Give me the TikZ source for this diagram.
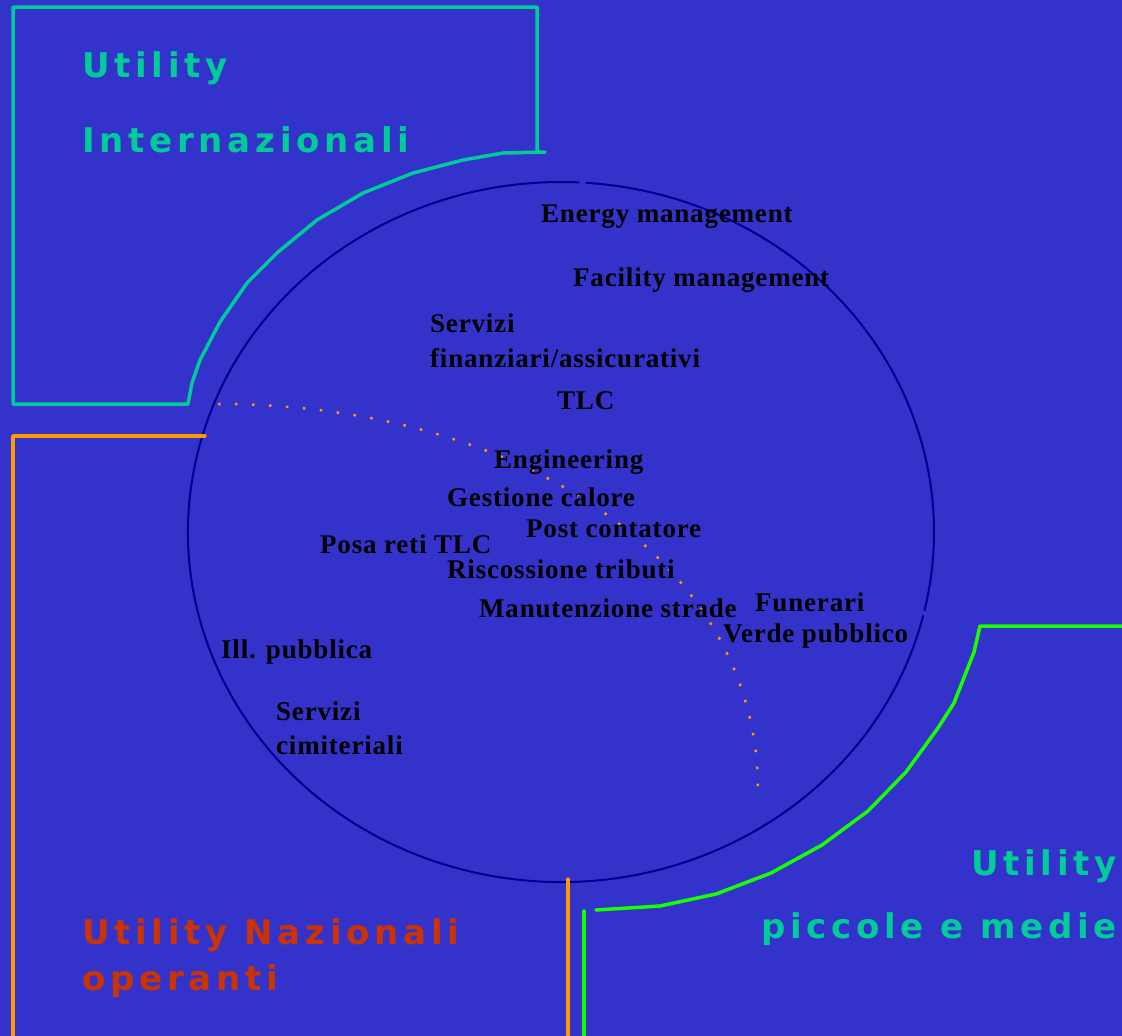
\documentclass[tikz,border=0pt]{standalone}
\usepackage{fontspec}
\newfontfamily\headfont[LetterSpace=14]{DejaVu Sans Bold}
\newfontfamily\labfont[LetterSpace=3]{Liberation Serif Bold}
\definecolor{bgblue}{RGB}{51,51,204}
\definecolor{navy}{RGB}{0,0,140}
\definecolor{tealc}{RGB}{0,204,153}
\definecolor{orangec}{RGB}{255,153,0}
\definecolor{greenc}{RGB}{26,255,0}
\definecolor{redc}{RGB}{204,51,0}
\begin{document}
\begin{tikzpicture}[x=1pt,y=-1pt,
  lab/.style={anchor=base west,inner sep=0pt,font=\labfont\fontsize{27}{32}\selectfont,text=black},
  head/.style={inner sep=0pt,font=\headfont\fontsize{34}{40}\selectfont},
  frame/.style={line width=3.5pt,line join=round,line cap=round}]
% background
\fill[bgblue] (0,0) rectangle (1122,1036);
\useasboundingbox (0,0) rectangle (1122,1036);

% central ellipse, drawn as two arcs
\coordinate (c) at (561,532);
\draw[navy,line width=2pt] (c) ++(13.8:373 and 350) arc[start angle=13.8,end angle=272.8,x radius=373,y radius=350];
\draw[navy,line width=2pt] (c) ++(273.8:373 and 350) arc[start angle=273.8,end angle=373.0,x radius=373,y radius=350];

% dotted boundary
\coordinate (d1) at (218,404);
\coordinate (d2) at (758,790);
\draw[orangec,line width=2.5pt,dash pattern=on 2.5pt off 14.5pt] (d1) .. controls (520,404) and (758,560) .. (d2);

% international utilities frame
\coordinate (t0) at (545,152);
\coordinate (t1) at (188,404);
\draw[tealc,frame] (t0) -- (503,153) -- (463,160) -- (413,173) -- (363,193) -- (317,220)
  -- (278,252) -- (247,283) -- (220,322) -- (200,360) -- (192,383) -- (t1)
  -- (13,404) -- (13,7) -- (537,7) -- (537,152);

% national utilities frame
\coordinate (o0) at (205,436);
\coordinate (o1) at (568,879);
\draw[orangec,frame] (o0) -- (13,436) -- (13,1045);
\draw[orangec,frame] (o1) -- (568,1045);

% small and medium utilities frame
\coordinate (g0) at (584,911);
\coordinate (g1) at (596,910);
\draw[greenc,frame] (g0) -- (584,1045);
\draw[greenc,frame] (g1) -- (660,906) -- (716,894) -- (771,873) -- (822,845) -- (868,811)
  -- (906,772) -- (938,728) -- (954,703) -- (974,652) -- (980,626) -- (1130,626);

% headings
\node[head,text=tealc,anchor=base west] (h1) at (82,77) {Utility};
\node[head,text=tealc,anchor=base west] (h2) at (82,152) {Internazionali};
\node[head,text=redc,anchor=base west] (h3) at (82,944) {Utility Nazionali};
\node[head,text=redc,anchor=base west] (h4) at (82,990) {operanti};
\node[head,text=tealc,anchor=base east] (h5) at (1117,875) {Utility};
\node[head,text=tealc,anchor=base east] (h6) at (1117,938) {piccole e medie};

% services
\node[lab] (s1) at (541,222) {Energy management};
\node[lab] (s2) at (573,286) {Facility management};
\node[lab] (s3) at (430,332) {Servizi};
\node[lab] (s3b) at (430,367) {finanziari/assicurativi};
\node[lab] (s4) at (557,409) {TLC};
\node[lab] (s5) at (494,468) {Engineering};
\node[lab] (s6) at (447,506) {Gestione calore};
\node[lab] (s7) at (526,537) {Post contatore};
\node[lab] (s8) at (320,553) {Posa reti TLC};
\node[lab] (s9) at (447,578) {Riscossione tributi};
\node[lab] (s10) at (479,617) {Manutenzione strade};
\node[lab] (s11) at (755,611) {Funerari};
\node[lab] (s12) at (723,642) {Verde pubblico};
\node[lab] (s13) at (221,658) {Ill. pubblica};
\node[lab] (s14) at (276,720) {Servizi};
\node[lab] (s14b) at (276,754) {cimiteriali};
\end{tikzpicture}
\end{document}
